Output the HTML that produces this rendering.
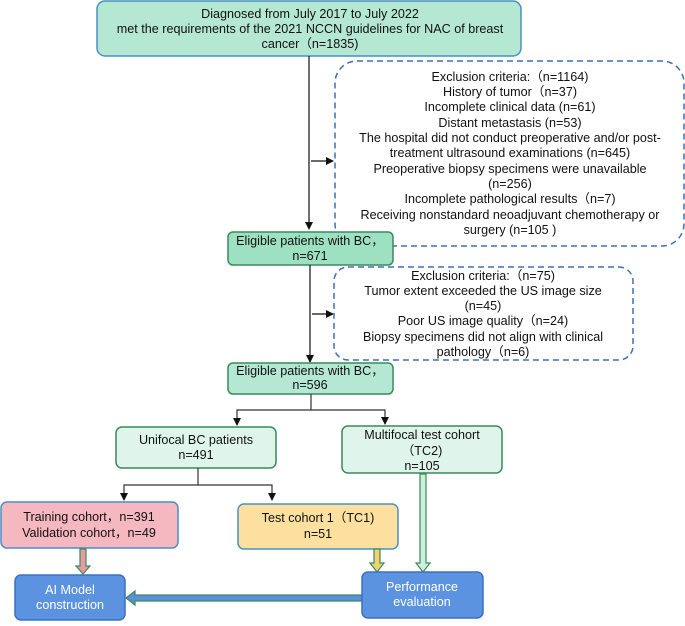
<!DOCTYPE html>
<html><head><meta charset="utf-8"><style>
html,body{margin:0;padding:0;background:#fff;}
text{font-family:"Liberation Sans","Noto Sans CJK SC",sans-serif;font-size:12.6px;fill:#111;text-anchor:middle;}
</style></head><body>
<svg width="685" height="621" viewBox="0 0 685 621" xmlns="http://www.w3.org/2000/svg">
<defs>
<marker id="ah" markerWidth="8" markerHeight="8" refX="7" refY="4" orient="auto" markerUnits="userSpaceOnUse"><path d="M0,0 L8,4 L0,8 z" fill="#111"/></marker>
</defs>
<rect x="97" y="1" width="424" height="55" rx="8" fill="#b5e8d2" stroke="#4a8fc4" stroke-width="1.5"/>
<text x="310" y="18">Diagnosed from July 2017 to July 2022</text>
<text x="310" y="33">met the requirements of the 2021 NCCN guidelines for NAC of breast</text>
<text x="310" y="48">cancer（n=1835)</text>
<line x1="309" y1="56" x2="309" y2="229" stroke="#111" stroke-width="1.2" marker-end="url(#ah)"/>
<line x1="311" y1="161" x2="333" y2="161" stroke="#111" stroke-width="1.2" marker-end="url(#ah)"/>
<rect x="335" y="61" width="349" height="185" rx="22" fill="none" stroke="#3f6fb8" stroke-width="1.5" stroke-dasharray="6,4"/>
<text x="510" y="81">Exclusion criteria:（n=1164)</text>
<text x="510" y="96">History of tumor（n=37)</text>
<text x="510" y="111">Incomplete clinical data (n=61)</text>
<text x="510" y="127">Distant metastasis (n=53)</text>
<text x="510" y="142">The hospital did not conduct preoperative and/or post-</text>
<text x="510" y="157">treatment ultrasound examinations (n=645)</text>
<text x="510" y="173">Preoperative biopsy specimens were unavailable</text>
<text x="510" y="188">(n=256)</text>
<text x="510" y="203">Incomplete pathological results（n=7)</text>
<text x="510" y="219">Receiving nonstandard neoadjuvant chemotherapy or</text>
<text x="510" y="234">surgery (n=105 )</text>
<rect x="228" y="232" width="165" height="33" rx="5" fill="#9ee0c2" stroke="#3a8a5a" stroke-width="1.5"/>
<text x="310" y="245">Eligible patients with BC，</text>
<text x="310" y="260">n=671</text>
<line x1="310" y1="265" x2="310" y2="362" stroke="#111" stroke-width="1.2" marker-end="url(#ah)"/>
<line x1="312" y1="314" x2="333" y2="314" stroke="#111" stroke-width="1.2" marker-end="url(#ah)"/>
<rect x="334" y="267" width="299" height="93" rx="14" fill="none" stroke="#3f6fb8" stroke-width="1.5" stroke-dasharray="6,4"/>
<text x="483" y="280">Exclusion criteria:（n=75)</text>
<text x="483" y="295">Tumor extent exceeded the US image size</text>
<text x="483" y="310">(n=45)</text>
<text x="483" y="325">Poor US image quality（n=24)</text>
<text x="483" y="341">Biopsy specimens did not align with clinical</text>
<text x="483" y="356">pathology（n=6)</text>
<rect x="228" y="363" width="165" height="31" rx="5" fill="#b5e8d2" stroke="#3a8a5a" stroke-width="1.5"/>
<text x="310" y="375">Eligible patients with BC，</text>
<text x="310" y="389">n=596</text>
<polyline points="311,394 311,410 237,410 237,425" fill="none" stroke="#333" stroke-width="1.2" marker-end="url(#ah)"/>
<polyline points="311,410 385,410 385,424" fill="none" stroke="#333" stroke-width="1.2" marker-end="url(#ah)"/>
<rect x="116" y="427" width="160" height="41" rx="6" fill="#dff5eb" stroke="#3a8a5a" stroke-width="1.5"/>
<text x="196" y="444">Unifocal BC  patients</text>
<text x="196" y="459">n=491</text>
<rect x="342" y="426" width="160" height="47" rx="6" fill="#dff5eb" stroke="#3a8a5a" stroke-width="1.5"/>
<text x="422" y="439">Multifocal test cohort</text>
<text x="422" y="455">（TC2)</text>
<text x="422" y="470">n=105</text>
<polyline points="198,468 198,485 124,485 124,500" fill="none" stroke="#333" stroke-width="1.2" marker-end="url(#ah)"/>
<polyline points="198,485 272,485 272,500" fill="none" stroke="#333" stroke-width="1.2" marker-end="url(#ah)"/>
<rect x="1" y="502" width="177" height="46" rx="6" fill="#f5b8c0" stroke="#4a8fc4" stroke-width="1.5"/>
<text x="89" y="521">Training cohort，n=391</text>
<text x="89" y="537">Validation cohort，n=49</text>
<rect x="238" y="504" width="160" height="45" rx="6" fill="#fde0a0" stroke="#4a8fc4" stroke-width="1.5"/>
<text x="318" y="522">Test cohort 1（TC1)</text>
<text x="318" y="538">n=51</text>
<path d="M80,549 L86,549 L86,566 L90,566 L83,574 L76,566 L80,566 Z" fill="#e89aa0" stroke="#3a8a5a" stroke-width="1.2"/>
<path d="M374,549 L380,549 L380,563 L384,563 L377,572 L370,563 L374,563 Z" fill="#f5cf70" stroke="#3a8a5a" stroke-width="1.2"/>
<path d="M420,474 L426,474 L426,563 L430,563 L423,572 L416,563 L420,563 Z" fill="#cdeedd" stroke="#3a8a5a" stroke-width="1.2"/>
<path d="M362,595 L362,601 L135,601 L135,605 L126,598 L135,591 L135,595 Z" fill="#5b8fd8" stroke="#3a8a5a" stroke-width="1.2"/>
<rect x="362" y="572" width="121" height="46" rx="6" fill="#5b93e0" stroke="#3a70c0" stroke-width="1.5"/>
<text x="422" y="591" style="fill:#fff">Performance</text>
<text x="422" y="606" style="fill:#fff">evaluation</text>
<rect x="15" y="575" width="110" height="45" rx="6" fill="#5b93e0" stroke="#3a70c0" stroke-width="1.5"/>
<text x="70" y="594" style="fill:#fff">AI Model</text>
<text x="70" y="609" style="fill:#fff">construction</text>
</svg>
</body></html>
